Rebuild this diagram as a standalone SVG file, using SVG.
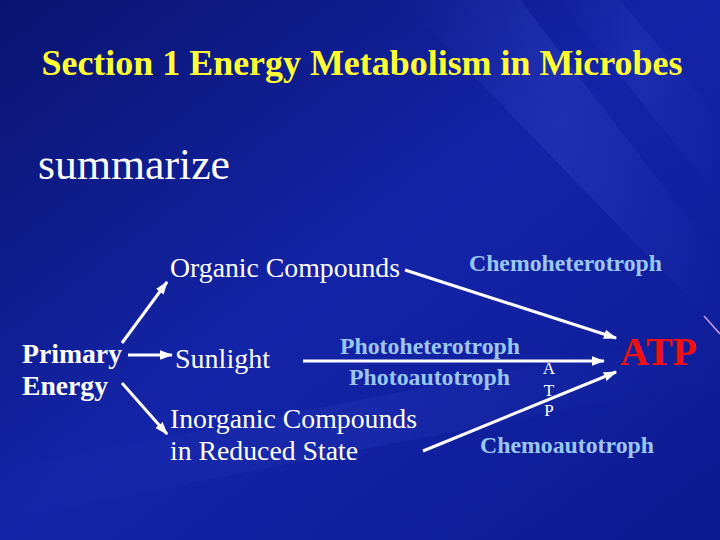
<svg xmlns="http://www.w3.org/2000/svg" width="720" height="540" viewBox="0 0 720 540">
<defs>
<linearGradient id="bg" x1="0" y1="0" x2="1" y2="1">
<stop offset="0" stop-color="#0a1470"/>
<stop offset="0.5" stop-color="#1424a8"/>
<stop offset="1" stop-color="#0c1a90"/>
</linearGradient>
<linearGradient id="streak" x1="0" y1="0" x2="1" y2="0">
<stop offset="0" stop-color="#4a60e0" stop-opacity="0"/>
<stop offset="0.5" stop-color="#4a60e0" stop-opacity="0.2"/>
<stop offset="1" stop-color="#4a60e0" stop-opacity="0"/>
</linearGradient>
<marker id="ah" viewBox="0 0 10 10" refX="9" refY="5" markerWidth="4.5" markerHeight="4.5" orient="auto" markerUnits="strokeWidth">
<path d="M0,1.5 L10,5 L0,8.5 z" fill="#ffffff"/>
</marker>
<style>
.title{font-family:"Liberation Serif",serif;font-weight:bold;font-size:36px;fill:#ffff33}
.sub{font-family:"Liberation Serif",serif;font-size:44px;fill:#ffffff}
.w{font-family:"Liberation Serif",serif;font-size:28px;fill:#ffffff}
.wb{font-family:"Liberation Serif",serif;font-weight:bold;font-size:27px;fill:#ffffff}
.lb{font-family:"Liberation Serif",serif;font-weight:bold;font-size:23px;fill:#9cc6f2}
.sm{font-family:"Liberation Serif",serif;font-size:17px;fill:#ffffff;text-anchor:middle}
.atp{font-family:"Liberation Serif",serif;font-weight:bold;font-size:40px;fill:#ee1111}
.c{stroke:#ffffff;stroke-width:3;fill:none;marker-end:url(#ah)}
</style>
</defs>
<rect width="720" height="540" fill="url(#bg)"/>
<g id="background-streaks">
<polygon points="400,0 520,0 720,260 720,330" fill="url(#streak)"/>
<polygon points="0,470 0,520 720,380 720,330" fill="url(#streak)" opacity="0.6"/>
<polygon points="560,0 620,0 720,120 720,200" fill="url(#streak)" opacity="0.7"/>
<line x1="704" y1="316" x2="720" y2="334" stroke="#c8a0f0" stroke-width="1.5"/>
</g>
<g id="title"><text class="title" x="362" y="75" text-anchor="middle" textLength="641" lengthAdjust="spacingAndGlyphs">Section 1 Energy Metabolism in Microbes</text></g>
<g id="summarize"><text class="sub" x="38" y="179" textLength="192" lengthAdjust="spacingAndGlyphs">summarize</text></g>
<g id="primary-energy"><text class="wb" x="22" y="363" textLength="100" lengthAdjust="spacingAndGlyphs">Primary</text><text class="wb" x="22" y="395" textLength="86" lengthAdjust="spacingAndGlyphs">Energy</text></g>
<g id="organic"><text class="w" x="170" y="277" textLength="230" lengthAdjust="spacingAndGlyphs">Organic Compounds</text></g>
<g id="sunlight"><text class="w" x="175" y="368" textLength="95" lengthAdjust="spacingAndGlyphs">Sunlight</text></g>
<g id="inorganic"><text class="w" x="170" y="428" textLength="247" lengthAdjust="spacingAndGlyphs">Inorganic Compounds</text><text class="w" x="170" y="460" textLength="188" lengthAdjust="spacingAndGlyphs">in Reduced State</text></g>
<g id="chemoheterotroph"><text class="lb" x="469" y="271" textLength="193" lengthAdjust="spacingAndGlyphs">Chemoheterotroph</text></g>
<g id="photo"><text class="lb" x="340" y="354" textLength="180" lengthAdjust="spacingAndGlyphs">Photoheterotroph</text><text class="lb" x="349" y="385" textLength="161" lengthAdjust="spacingAndGlyphs">Photoautotroph</text></g>
<g id="chemoautotroph"><text class="lb" x="480" y="453" textLength="174" lengthAdjust="spacingAndGlyphs">Chemoautotroph</text></g>
<g id="atp-vertical"><text class="sm" x="549" y="374">A</text><text class="sm" x="549" y="396">T</text><text class="sm" x="549" y="416">P</text></g>
<g id="atp"><text class="atp" x="620" y="365" textLength="77" lengthAdjust="spacingAndGlyphs">ATP</text></g>
<g id="connectors">
<line class="c" x1="122" y1="343" x2="167" y2="282"/>
<line class="c" x1="128" y1="355" x2="172" y2="355"/>
<line class="c" x1="122" y1="383" x2="167" y2="434"/>
<line class="c" x1="405" y1="270" x2="616" y2="338"/>
<line class="c" x1="303" y1="361" x2="604" y2="361"/>
<line class="c" x1="423" y1="451" x2="616" y2="372"/>
</g>
</svg>
